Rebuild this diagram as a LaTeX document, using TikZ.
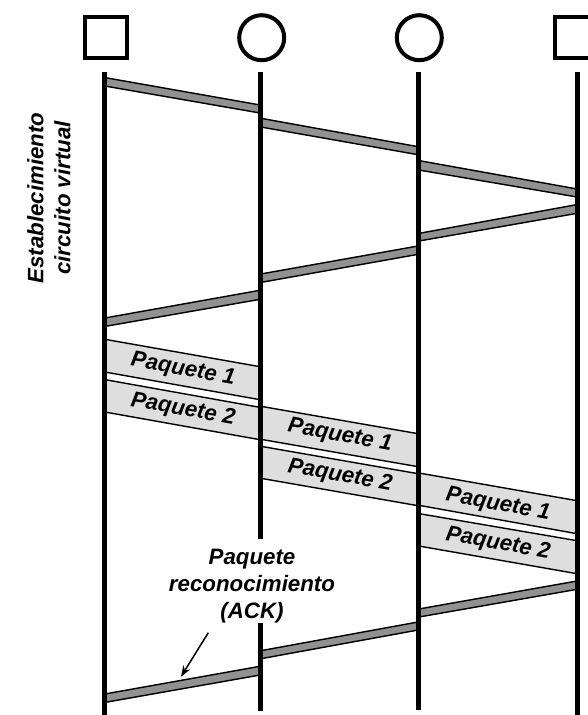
\documentclass[tikz,border=0pt]{standalone}
\usepackage{fontspec}
\setmainfont{Liberation Sans}
\usetikzlibrary{arrows.meta}
\definecolor{bandd}{HTML}{919191}
\definecolor{bandl}{HTML}{DEDEDE}
\tikzset{
  lifeline/.style={line width=4.8pt,black},
  sqnode/.style={draw=black,line width=4pt,rectangle,minimum size=41.5pt,inner sep=0pt},
  cirnode/.style={draw=black,line width=4pt,circle,minimum size=45pt,inner sep=0pt},
  edgeline/.style={line width=1.4pt,black},
  lbl/.style={font=\fontsize{22.3}{27}\selectfont\bfseries\itshape,align=center,inner sep=0pt},
  pk/.style={lbl,rotate=-10.2},
}
% x1 top1 bot1 x2 top2 bot2 colour
\newcommand{\bandshape}[7]{%
  \fill[#7] (#1,#2) -- (#4,#5) -- (#4,#6) -- (#1,#3) -- cycle;
  \draw[edgeline] (#1,#2+0.5) -- (#4,#5+0.5);
  \draw[edgeline] (#1,#3-0.5) -- (#4,#6-0.5);
}
\begin{document}
\begin{tikzpicture}[x=1pt,y=-1pt]
\useasboundingbox (0,0) rectangle (588,715);
\fill[white] (0,0) rectangle (588,715);
% stations
\node[sqnode] (s1) at (106,37.5) {};
\node[cirnode] (c2) at (261.7,37.7) {};
\node[cirnode] (c3) at (419.3,37.7) {};
\node[sqnode] (s4) at (575.4,37.5) {};
% thin bands
\bandshape{106}{77.3}{86.7}{259}{104.3}{113.3}{bandd}
\bandshape{262}{118}{127.7}{417}{146}{155}{bandd}
\bandshape{420}{160.3}{170.7}{576}{188.3}{197.3}{bandd}
\bandshape{576}{204.3}{214}{420}{232.7}{241.3}{bandd}
\bandshape{417}{245.7}{255}{262}{273.3}{282.7}{bandd}
\bandshape{259}{290}{300}{106}{317.3}{326.7}{bandd}
% packets
\bandshape{106}{339}{372.7}{259}{366}{400}{bandl}
\bandshape{106}{379.3}{412.7}{259}{406.7}{440}{bandl}
\bandshape{262}{406}{440}{417}{433}{467}{bandl}
\bandshape{262}{446}{479}{417}{473}{506}{bandl}
\bandshape{420}{472.7}{506}{576}{500}{534}{bandl}
\bandshape{420}{513.3}{546.7}{576}{540}{574}{bandl}
% ack
\bandshape{576}{580.7}{590}{420}{608.3}{617.3}{bandd}
\bandshape{417}{621.7}{630.7}{262}{650}{659}{bandd}
\bandshape{259}{666}{675.7}{106}{693.3}{702.7}{bandd}
% lifelines
\coordinate (l1t) at (104.4,72); \coordinate (l1b) at (104.4,715);
\coordinate (l2t) at (260.4,72); \coordinate (l2m) at (260.4,539);
\coordinate (l2n) at (260.4,623); \coordinate (l2b) at (260.4,711);
\coordinate (l3t) at (418.4,72); \coordinate (l3b) at (418.4,710);
\coordinate (l4t) at (577.5,72); \coordinate (l4b) at (577.5,715);
\draw[lifeline] (l1t) -- (l1b);
\draw[lifeline] (l2t) -- (l2m);
\draw[lifeline] (l2n) -- (l2b);
\draw[lifeline] (l3t) -- (l3b);
\draw[lifeline] (l4t) -- (l4b);
% labels
\node[lbl,rotate=90] (est) at (49,198) {Establecimiento\\circuito virtual};
\node[pk] (p11) at (183,370) {Paquete 1};
\node[pk] (p12) at (183,410) {Paquete 2};
\node[pk] (p21) at (340,436) {Paquete 1};
\node[pk] (p22) at (340,476) {Paquete 2};
\node[pk] (p31) at (498,505) {Paquete 1};
\node[pk] (p32) at (498,544) {Paquete 2};
\node[lbl] (ack) at (252,586) {Paquete\\reconocimiento\\(ACK)};
% pointer
\coordinate (ptra) at (208.3,632.7);
\coordinate (ptrb) at (181,676.7);
\draw[line width=1.5pt,-{Stealth[length=11pt,width=8pt]}] (ptra) -- (ptrb);
\end{tikzpicture}
\end{document}
